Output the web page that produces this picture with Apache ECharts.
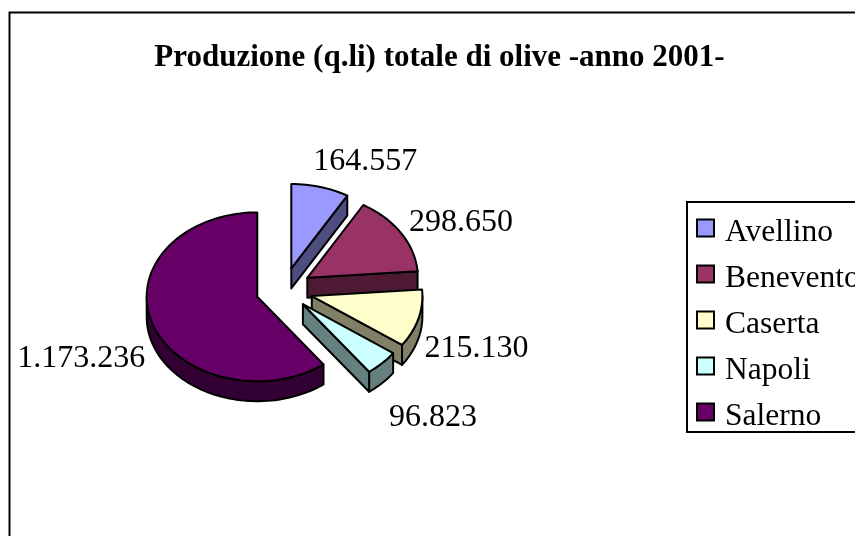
<!DOCTYPE html>
<html><head><meta charset="utf-8">
<style>html,body{margin:0;padding:0;background:#fff;overflow:hidden}#c{width:855px;height:536px}</style>
<script src="https://cdn.jsdelivr.net/npm/echarts@6/dist/echarts.min.js"></script>
</head><body><div id="c"></div>
<script>
const titleText = 'Produzione (q.li) totale di olive -anno 2001-';
const categories = ['Avellino', 'Benevento', 'Caserta', 'Napoli', 'Salerno'];
const values = [164557, 298650, 215130, 96823, 1173236];
const topColors = ['#9999FF', '#993366', '#FFFFCC', '#CCFFFF', '#660066'];
const sideColors = ['#4D4D80', '#4D1933', '#808066', '#668080', '#330033'];
// layout only: pie centre, ellipse radii, extrusion depth, explode offsets, label offsets
const FONT = '"Liberation Serif"';
const centre = [257.3, 296.8], rx = 110.6, ry = 84.4, depth = 20;
const explode = [[34, -28.4], [50, -19], [54.5, -0.7], [45.6, 7.4], [0, 0]];
const labelShift = [[45, -25], [60, -10], [58, 30], [51, 54], [-71, 35]];

const total = values.reduce((a, b) => a + b, 0);
function startAngle(i) { let s = 0; for (let k = 0; k < i; k++) s += values[k]; return s / total * 360; }
function fmt(v) { return String(v).replace(/\B(?=(\d{3})+$)/g, '.'); }
function pt(c, deg, dz) {
  const r = deg * Math.PI / 180;
  return [c[0] + rx * Math.sin(r), c[1] - ry * Math.cos(r) + (dz || 0)];
}
function arc(c, a, b, dz) {
  const n = Math.max(2, Math.ceil(Math.abs(b - a) / 2)), out = [];
  for (let j = 0; j <= n; j++) out.push(pt(c, a + (b - a) * j / n, dz));
  return out;
}
const stroke = { stroke: '#000', lineWidth: 2, lineJoin: 'round' };
function poly(points, fill) { return { type: 'polygon', shape: { points }, style: Object.assign({ fill }, stroke), silent: true }; }

function renderSlice(i) {
  return function () {
    const a = startAngle(i), b = a + values[i] / total * 360;
    const c = [centre[0] + explode[i][0], centre[1] + explode[i][1]];
    const kids = [];
    // outer wall: only the part of the rim that faces the viewer
    const wa = Math.max(a, 90), wb = Math.min(b, 270);
    if (wb > wa) kids.push(poly(arc(c, wa, wb, 0).concat(arc(c, wb, wa, depth)), sideColors[i]));
    // cut face at the clockwise end of the slice
    if (b < 180) {
      const e = pt(c, b, 0);
      kids.push(poly([c, e, [e[0], e[1] + depth], [c[0], c[1] + depth]], sideColors[i]));
    }
    // top face
    kids.push(poly([c].concat(arc(c, a, b, 0)), topColors[i]));
    // value label
    const m = pt(c, (a + b) / 2, 0);
    kids.push({
      type: 'text', silent: true,
      style: { x: m[0] + labelShift[i][0], y: m[1] + labelShift[i][1], text: fmt(values[i]),
        fill: '#000', font: '32px ' + FONT, textAlign: 'center', textVerticalAlign: 'middle' }
    });
    return { type: 'group', children: kids };
  };
}

const chart = echarts.init(document.getElementById('c'), null, { renderer: 'canvas' });
chart.setOption({
  animation: false,
  backgroundColor: '#fff',
  title: { text: titleText, left: 434.5, top: 37, textAlign: 'center',
    textStyle: { fontFamily: FONT, fontSize: 31, fontWeight: 'bold', color: '#000' } },
  legend: {
    orient: 'vertical', left: 687, top: 202, data: categories,
    padding: [10, 30, -1, 9], itemWidth: 17, itemHeight: 17, itemGap: 9, icon: 'rect',
    borderColor: '#000', borderWidth: 2, backgroundColor: '#fff',
    itemStyle: { borderColor: '#000', borderWidth: 2 },
    formatter: name => '{s|}{a|' + name + '}',
    textStyle: { fontFamily: FONT, fontSize: 31.5, color: '#000', padding: [0, 0, 0, 6],
      rich: { s: { height: 42, width: 0 },
              a: { fontFamily: FONT, fontSize: 31.5, color: '#000', lineHeight: 30, verticalAlign: 'bottom' } } },
    selectedMode: false
  },
  graphic: [{ type: 'rect', z: -10, silent: true, shape: { x: 9.5, y: 12.5, width: 2000, height: 2000 },
    style: { fill: 'none', stroke: '#000', lineWidth: 2 } }],
  series: categories.map((name, i) => ({
    type: 'custom', name, coordinateSystem: 'none', z: 2 + i,
    itemStyle: { color: topColors[i] },
    renderItem: renderSlice(i),
    data: [{ name, value: [values[i]] }]
  }))
});
</script></body></html>
